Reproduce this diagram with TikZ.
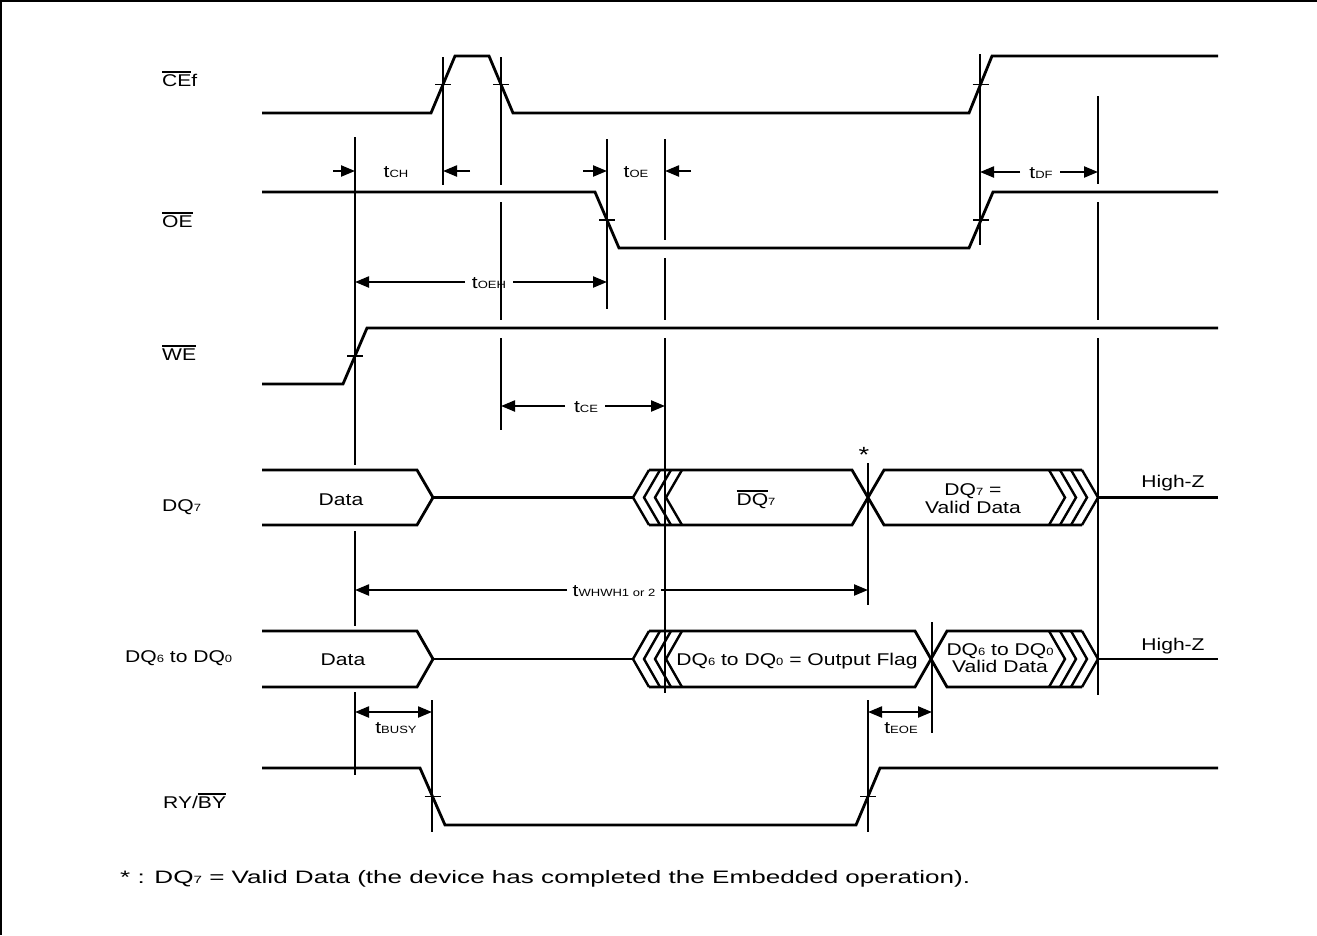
\documentclass[tikz,border=0pt]{standalone}
\usepackage{fontspec}
\setmainfont{Liberation Sans}[FakeStretch=1.24]
\usetikzlibrary{arrows.meta}
\newsavebox\ovlbox
\newcommand\ovl[1]{\sbox\ovlbox{#1}\rlap{\raisebox{\dimexpr\ht\ovlbox+1.6pt\relax}{\rule{\wd\ovlbox}{1.4pt}}}\usebox\ovlbox}
\newcommand\sm[1]{{\fontsize{10.5}{11}\selectfont #1}}
\begin{document}
\begin{tikzpicture}[x=1pt,y=-1pt,
  sig/.style={line width=2.8pt,line join=miter,line cap=butt},
  chev/.style={line width=2.4pt,line join=miter},
  vl/.style={line width=2.2pt},
  tk/.style={line width=1.6pt},
  dim/.style={line width=2.2pt,-{Triangle[length=14pt,width=11pt]}},
  dimboth/.style={line width=2.2pt,{Triangle[length=14pt,width=11pt]}-{Triangle[length=14pt,width=11pt]}},
  txt/.style={inner sep=0pt,font=\fontsize{17}{18}\selectfont}]
\useasboundingbox (0,0) rectangle (1317,935);
\draw[line width=1.5pt] (0.75,935)--(0.75,0.75)--(1317,0.75);
% signals
\draw[sig] (262,113)--(431,113)--(455,56)--(489,56)--(513,113)--(969,113)--(992,56)--(1218,56);
\draw[sig] (262,192)--(595,192)--(619,248)--(969,248)--(993,192)--(1218,192);
\draw[sig] (262,384)--(343,384)--(367,328)--(1218,328);
\draw[sig] (262,768)--(420,768)--(445,825)--(856,825)--(880,768)--(1218,768);
% vertical timing lines
\draw[vl] (355,137)--(355,465) (355,531)--(355,626) (355,692)--(355,775);
\draw[vl] (443,57)--(443,185);
\draw[vl] (501,57)--(501,185) (501,202)--(501,320) (501,338)--(501,430);
\draw[vl] (607,139)--(607,309);
\draw[vl] (665,139)--(665,240) (665,258)--(665,320) (665,338)--(665,693);
\draw[vl] (980,54)--(980,245);
\draw[vl] (1098,96)--(1098,184) (1098,202)--(1098,320) (1098,338)--(1098,695);
\draw[vl] (868,463)--(868,605) (868,700)--(868,832);
\draw[vl] (932,622)--(932,733);
\draw[vl] (432,700)--(432,832);
% transition ticks
\foreach \x/\y in {443/84.5,501/84.5,980.5/84.5,607/220,981/220,355/356,432.5/796.5,868/796.5}
  \draw[tk] (\x-8,\y)--(\x+8,\y);
% DQ7 bus
\draw[sig] (262,470)--(417,470)--(433,497.5)--(417,525)--(262,525);
\draw[sig] (433,497.5)--(633,497.5);
\foreach \p in {633,644,655,666} \draw[chev] (\p+16,470)--(\p,497.5)--(\p+16,525);
\draw[sig] (649,470)--(852,470)--(884,525)--(1082,525);
\draw[sig] (649,525)--(852,525)--(884,470)--(1082,470);
\foreach \p in {1065,1076,1087,1098} \draw[chev] (\p-16,470)--(\p,497.5)--(\p-16,525);
\draw[sig] (1098,497.5)--(1218,497.5);
% DQ6 bus
\draw[sig] (262,631)--(417,631)--(433,659)--(417,687)--(262,687);
\draw[sig] (433,659)--(633,659);
\foreach \p in {633,644,655,666} \draw[chev] (\p+16,631)--(\p,659)--(\p+16,687);
\draw[sig] (649,631)--(915,631)--(947,687)--(1082,687);
\draw[sig] (649,687)--(915,687)--(947,631)--(1082,631);
\foreach \p in {1065,1076,1087,1098} \draw[chev] (\p-16,631)--(\p,659)--(\p-16,687);
\draw[sig] (1098,659)--(1218,659);
% dimension arrows
\draw[dim] (333,171)--(355,171);
\draw[dim] (470,171)--(443,171);
\draw[dim] (583,171)--(607,171);
\draw[dim] (691,171)--(665,171);
\draw[dim] (1020,172)--(980,172);
\draw[dim] (1060,172)--(1098,172);
\draw[dim] (465,282)--(355,282);
\draw[dim] (513,282)--(607,282);
\draw[dim] (565,406)--(501,406);
\draw[dim] (605,406)--(665,406);
\draw[dim] (567,590)--(355,590);
\draw[dim] (661,590)--(868,590);
\draw[dimboth] (355,712)--(432,712);
\draw[dimboth] (868,712)--(932,712);
% signal names
\node[txt,anchor=base west] (lce) at (162,86) {\ovl{CE}f};
\node[txt,anchor=base west] (loe) at (162,227) {\ovl{OE}};
\node[txt,anchor=base west] (lwe) at (162,360) {\ovl{WE}};
\node[txt,anchor=base west] (ldq7) at (162,511) {DQ\sm{7}};
\node[txt,anchor=base west] (ldq6) at (125,662) {DQ\sm{6} to DQ\sm{0}};
\node[txt,anchor=base west] (lry) at (163,808) {RY/\ovl{BY}};
% bus texts
\node[txt,anchor=base] (d7) at (341,505) {Data};
\node[txt,anchor=base] (d6) at (343,665) {Data};
\node[txt,anchor=base] (dq7b) at (756,505) {\ovl{DQ}\sm{7}};
\node[txt,anchor=base] (flag) at (797,665) {DQ\sm{6} to DQ\sm{0} = Output Flag};
\node[txt,anchor=base] (v7a) at (973,495) {DQ\sm{7} =};
\node[txt,anchor=base] (v7b) at (973,513) {Valid Data};
\node[txt,anchor=base] (v6a) at (1000,655) {DQ\sm{6} to DQ\sm{0}};
\node[txt,anchor=base] (v6b) at (1000,672) {Valid Data};
\node[txt,anchor=base] (hz7) at (1173,487) {High-Z};
\node[txt,anchor=base] (hz6) at (1173,650) {High-Z};
\node[txt,anchor=base,font=\fontsize{22}{22}\selectfont] (star) at (864,462) {*};
% timing labels
\node[txt,anchor=base] (tch) at (396,177) {t\sm{CH}};
\node[txt,anchor=base] (toe) at (636,177) {t\sm{OE}};
\node[txt,anchor=base] (tdf) at (1041,178) {t\sm{DF}};
\node[txt,anchor=base] (toeh) at (489,288) {t\sm{OEH}};
\node[txt,anchor=base] (tce) at (586,412) {t\sm{CE}};
\node[txt,anchor=base] (twh) at (614,596) {t\sm{WHWH1 or 2}};
\node[txt,anchor=base] (tbusy) at (396,733) {t\sm{BUSY}};
\node[txt,anchor=base] (teoe) at (901,733) {t\sm{EOE}};
% footnote
\node[txt,anchor=base west,font=\fontsize{18}{19}\selectfont] (note) at (120,883) {\resizebox{850pt}{\height}{* : DQ\sm{7} = Valid Data (the device has completed the Embedded operation).}};
\end{tikzpicture}
\end{document}
